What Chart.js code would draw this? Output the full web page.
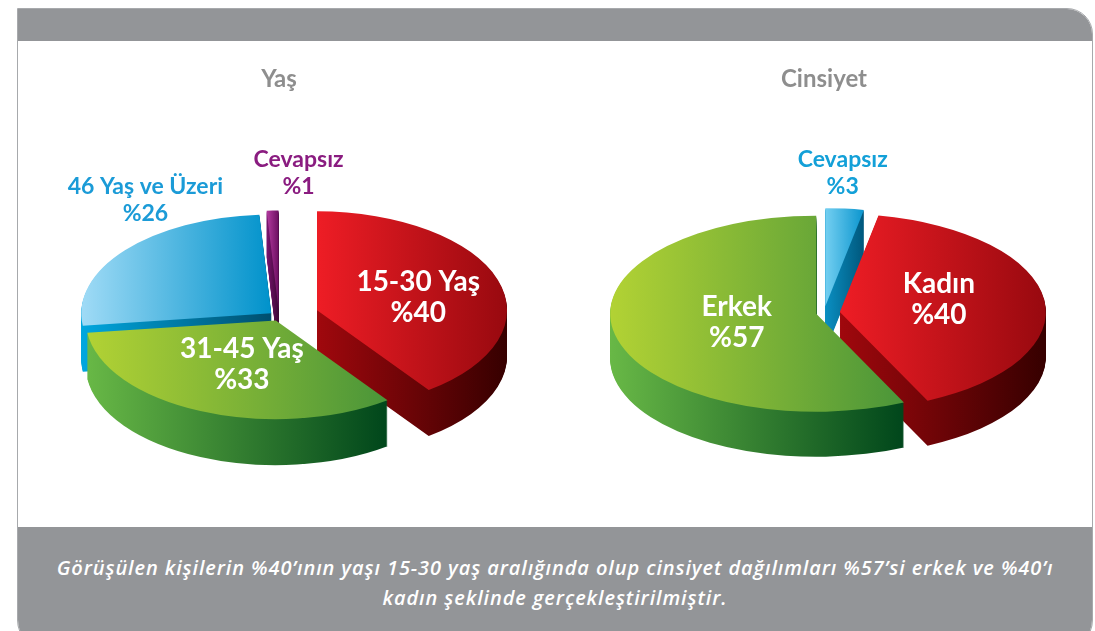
<!DOCTYPE html>
<html lang="tr">
<head>
<meta charset="utf-8">
<title>Yaş ve Cinsiyet</title>
<script src="https://cdn.jsdelivr.net/npm/chart.js@4.4.1/dist/chart.umd.min.js"></script>
<style>
  html, body { margin: 0; padding: 0; background: #fff; }
  body { width: 1095px; height: 631px; position: relative; overflow: hidden; }
  #frame {
    position: absolute; left: 17px; top: 8px; width: 1074px; height: 640px;
    border: 1px solid #a7a9ac; border-radius: 0 26px 30px 30px;
    overflow: hidden; background: #fff;
  }
  #head { position: absolute; left: 0; right: 0; top: 0; height: 32px; background: #939598; }
  #foot {
    position: absolute; left: 0; right: 0; top: 518px; bottom: 0; background: #939598;
    color: #fff; text-align: center; box-sizing: border-box; padding-top: 26px;
    font: italic 600 20px "Open Sans", sans-serif; line-height: 30px; letter-spacing: 0.9px;
  }
  canvas { position: absolute; top: 41px; }
  #yas { left: 29px; }
  #cinsiyet { left: 564px; }
</style>
</head>
<body>
<div id="frame">
  <div id="head"></div>
  <div id="foot">Görüşülen kişilerin %40’ının yaşı 15-30 yaş aralığında olup cinsiyet dağılımları %57’si erkek ve %40’ı<br>kadın şeklinde gerçekleştirilmiştir.</div>
</div>
<canvas id="yas" width="500" height="485"></canvas>
<canvas id="cinsiyet" width="520" height="485"></canvas>

<script>
// data
const yasLabels = ['15-30 Yaş', '31-45 Yaş', '46 Yaş ve Üzeri', 'Cevapsız'];
const yasValues = [40, 33, 26, 1];

const cinsiyetLabels = ['Cevapsız', 'Kadın', 'Erkek'];
const cinsiyetValues = [3, 40, 57];

// slice colours: top face [left, right], side [left, right]
const RED    = { top: ['#ee1d25', '#98090f'], side: ['#a0080d', '#360000'] };
const GREEN  = { top: ['#b2d234', '#4a9539'], side: ['#68b846', '#00461b'] };
const BLUE   = { top: ['#a0dbf6', '#0092cb'], side: ['#00a7df', '#004e6e'] };
const PURPLE = { top: ['#b43aa0', '#6c0f61'], side: ['#7a1470', '#3d0736'] };
const CYAN   = { top: ['#74cff1', '#0a95ce'], side: ['#0a8fc2', '#00577c'] };

// fake 3d: squash the library's pie vertically and extrude it downwards
function pie3d(style) {
  function geom(chart) {
    const arcs = chart.getDatasetMeta(0).data;
    const a = arcs[0];
    return { arcs, cx: a.x, cy: a.y, r: a.outerRadius,
             top: chart.chartArea.top + style.topGap, s: style.squash };
  }

  function xRange(g, arc) {
    let lo = g.cx, hi = g.cx;
    for (let k = 0; k <= 24; k++) {
      const t = arc.startAngle + (arc.endAngle - arc.startAngle) * k / 24;
      const x = g.cx + Math.cos(t) * g.r;
      lo = Math.min(lo, x); hi = Math.max(hi, x);
    }
    return [lo, hi];
  }

  function drawSlice(ctx, g, arc, i, fill, lift) {
    const mid = (arc.startAngle + arc.endAngle) / 2;
    const e = style.explode[i];
    ctx.save();
    ctx.translate(0, g.top + lift);
    ctx.scale(1, g.s);
    ctx.translate(0, -(g.cy - g.r));
    ctx.translate(Math.cos(mid) * e, Math.sin(mid) * e);
    const p = Object.create(arc);
    p.options = Object.assign({}, arc.options,
      { backgroundColor: fill, borderWidth: 0, offset: 0, spacing: 0 });
    p.draw(ctx);
    ctx.restore();
  }

  return {
    id: 'pie3d',
    beforeDatasetsDraw(chart) {
      const ctx = chart.ctx;
      const g = geom(chart);
      const fills = g.arcs.map((arc, i) => {
        const [lo, hi] = xRange(g, arc);
        const c = style.colors[i];
        const top = ctx.createLinearGradient(lo, 0, hi, 0);
        top.addColorStop(0, c.top[0]); top.addColorStop(1, c.top[1]);
        const side = ctx.createLinearGradient(lo, 0, hi, 0);
        side.addColorStop(0, c.side[0]); side.addColorStop(1, c.side[1]);
        return { top, side };
      });
      for (let k = style.depth; k >= 1; k--) {
        g.arcs.forEach((arc, i) => drawSlice(ctx, g, arc, i, fills[i].side, k));
      }
      g.arcs.forEach((arc, i) => drawSlice(ctx, g, arc, i, fills[i].top, 0));
      return false;
    },
    afterDraw(chart) {
      const ctx = chart.ctx;
      const g = geom(chart);
      const ds = chart.data.datasets[0];
      ctx.save();
      ctx.textAlign = 'center';
      ctx.textBaseline = 'middle';
      g.arcs.forEach((arc, i) => {
        const L = style.labels[i];
        const mid = (arc.startAngle + arc.endAngle) / 2;
        const d = L.f * g.r + style.explode[i];
        const x = g.cx + Math.cos(mid) * d + L.dx;
        const y = g.top + (g.r + Math.sin(mid) * d) * g.s + L.dy;
        ctx.font = 'bold ' + L.size + 'px Lato, sans-serif';
        ctx.fillStyle = L.color;
        ctx.fillText(chart.data.labels[i], x, y - L.lh / 2);
        ctx.fillText('%' + ds.data[i], x, y + L.lh / 2);
      });
      ctx.restore();
    }
  };
}

function makeChart(id, title, labels, values, radius, style) {
  return new Chart(document.getElementById(id), {
    type: 'pie',
    data: {
      labels: labels,
      datasets: [{ data: values, borderWidth: 0, backgroundColor: '#999' }]
    },
    options: {
      responsive: false,
      animation: false,
      events: [],
      radius: radius,
      layout: { padding: { top: 14 } },
      plugins: {
        legend: { display: false },
        tooltip: { enabled: false },
        title: {
          display: true,
          text: title,
          color: '#8e8e8e',
          font: { family: 'Lato', size: 24, weight: 'bold' },
          padding: { top: 10, bottom: 8 }
        }
      }
    },
    plugins: [pie3d(style)]
  });
}

makeChart('yas', 'Yaş', yasLabels, yasValues, 190, {
  squash: 0.52, depth: 46, topGap: 116,
  explode: [40, 8, 10, 14],
  colors: [RED, GREEN, BLUE, PURPLE],
  labels: [
    { f: 0.56, dx: 0,  dy: 4,   size: 28, lh: 31, color: '#ffffff' },
    { f: 0.49, dx: 3,  dy: 0,   size: 28, lh: 31, color: '#ffffff' },
    { f: 0.86, dx: 0,  dy: -59, size: 23, lh: 27, color: '#1b9bd7' },
    { f: 1.0,  dx: 26, dy: -37, size: 23, lh: 27, color: '#8a1c80' }
  ]
});

makeChart('cinsiyet', 'Cinsiyet', cinsiyetLabels, cinsiyetValues, 206, {
  squash: 0.476, depth: 45, topGap: 113,
  explode: [14, 16, 8],
  colors: [CYAN, RED, GREEN],
  labels: [
    { f: 1.0,  dx: -2, dy: -36, size: 23, lh: 27, color: '#13a0d8' },
    { f: 0.46, dx: 5,  dy: -7,  size: 28, lh: 31, color: '#ffffff' },
    { f: 0.42, dx: 5,  dy: 0,   size: 28, lh: 31, color: '#ffffff' }
  ]
});
</script>
</body>
</html>
